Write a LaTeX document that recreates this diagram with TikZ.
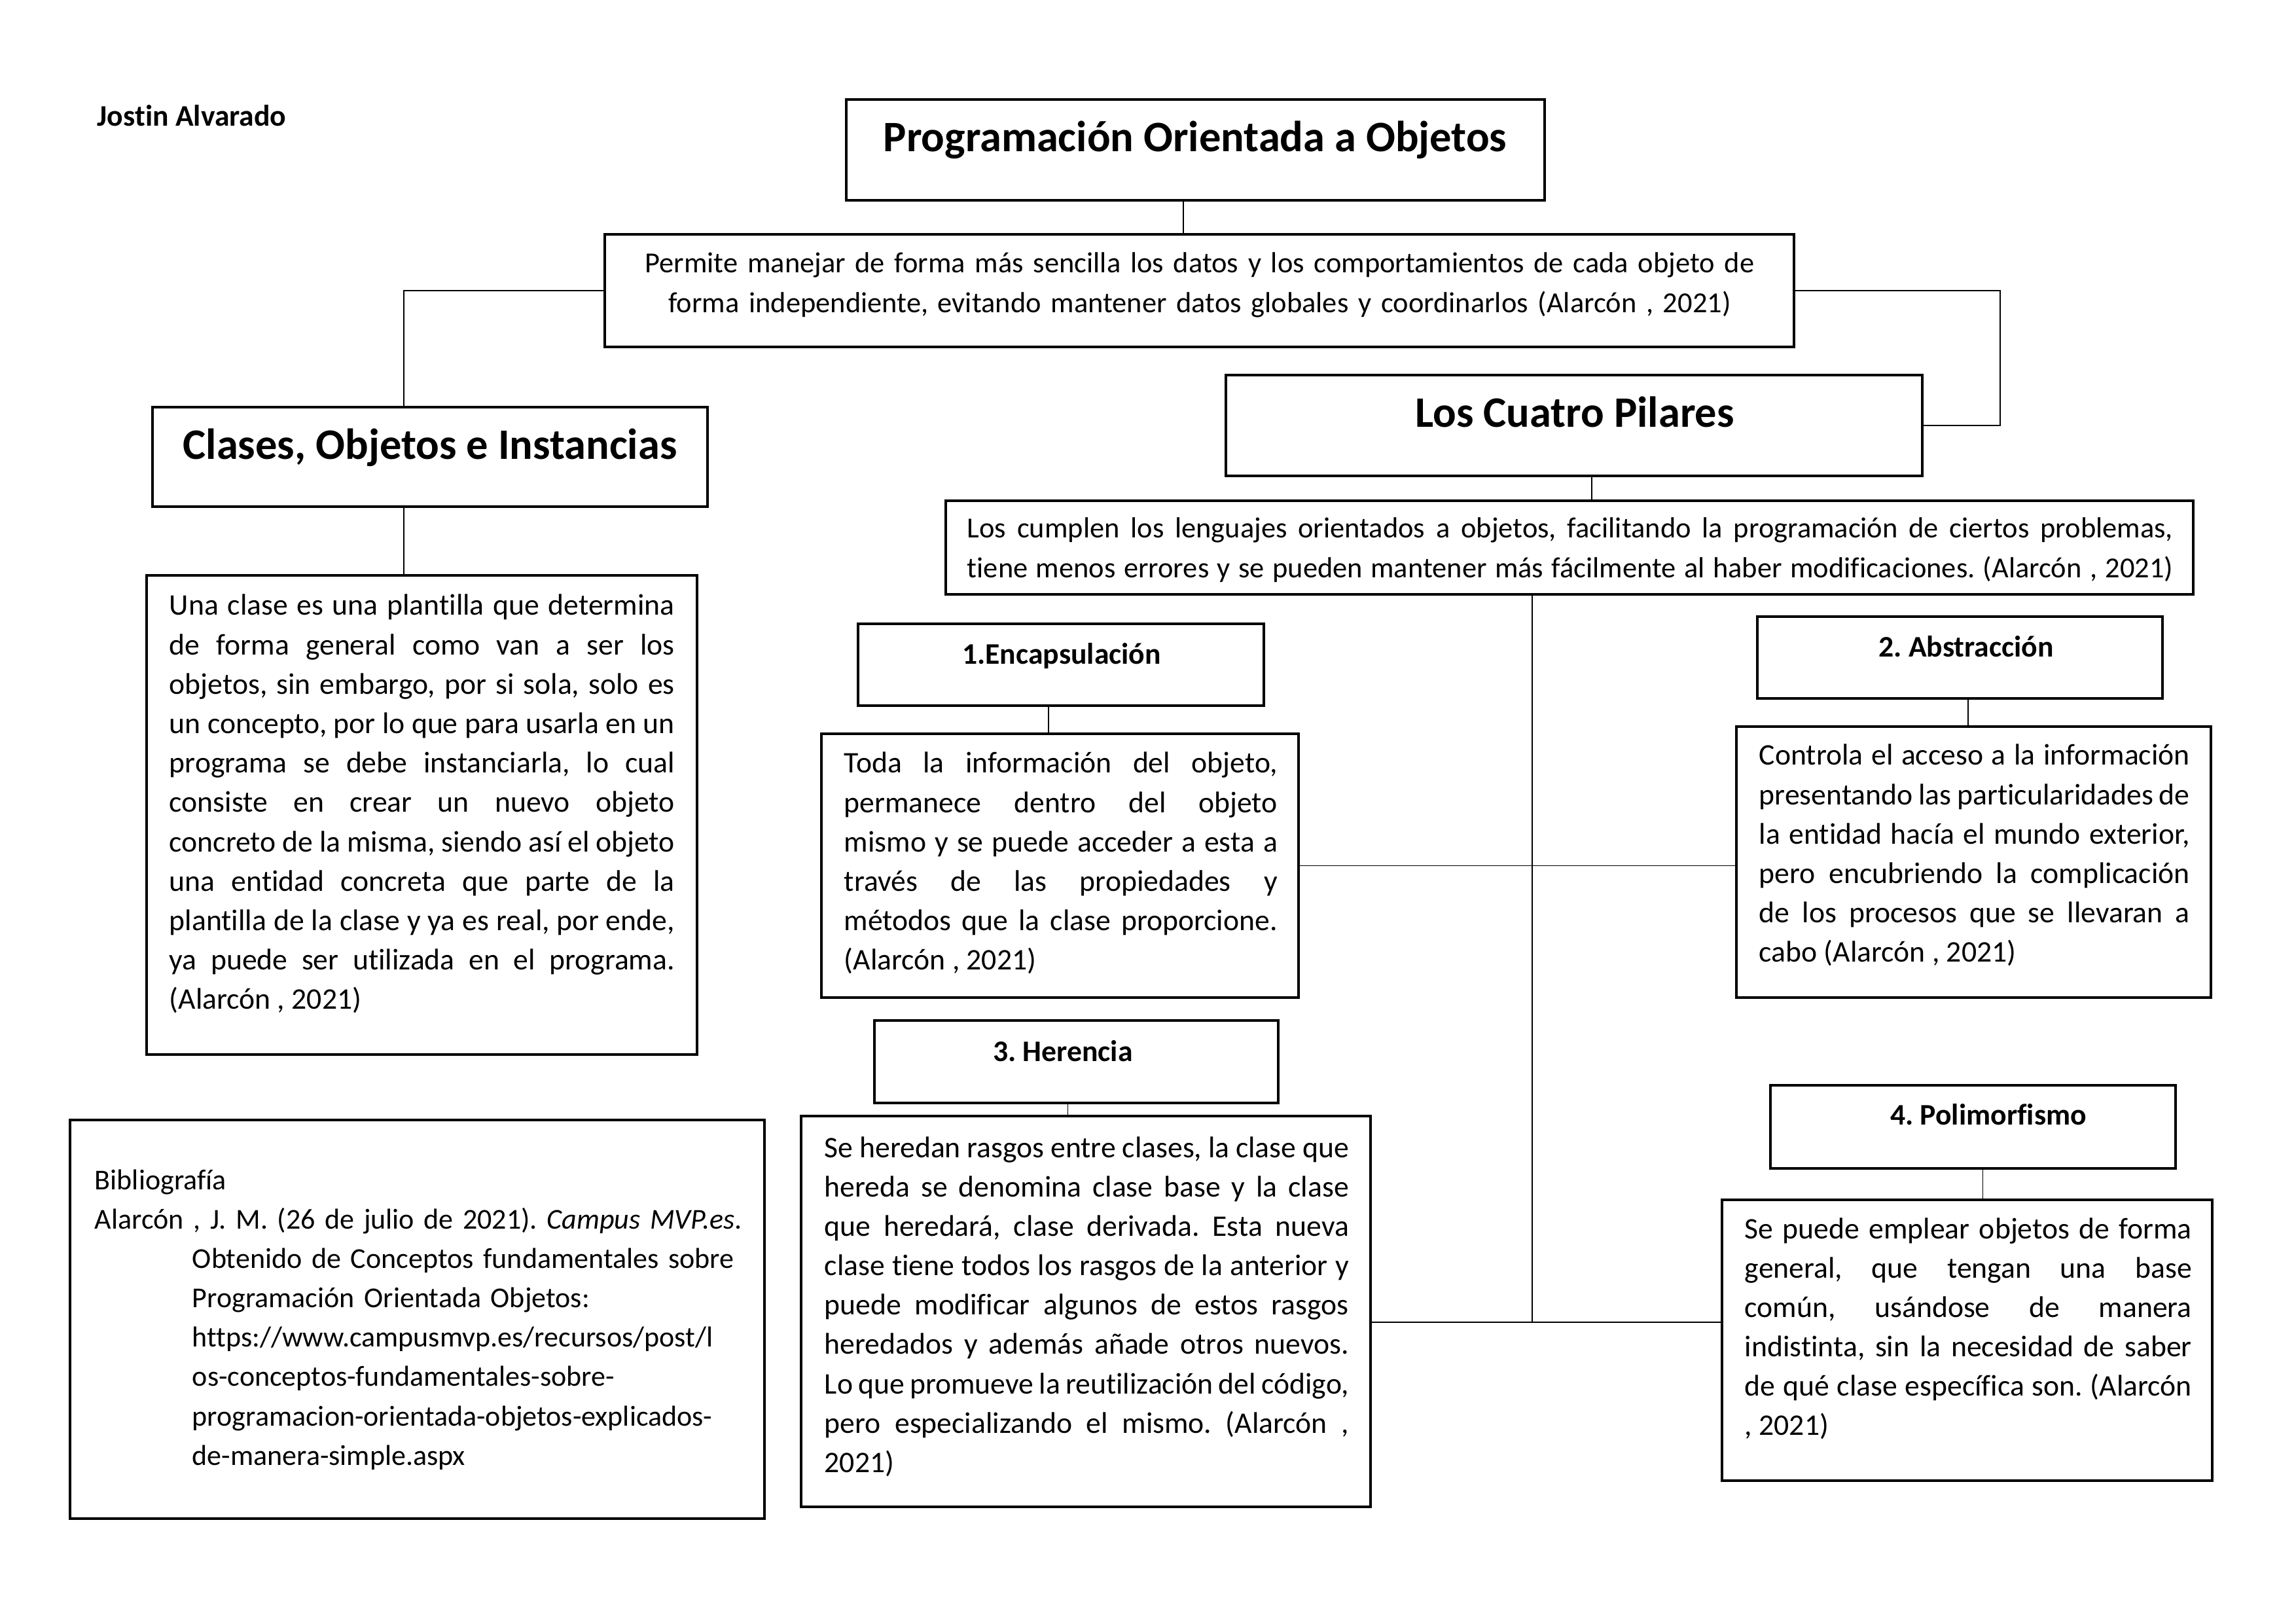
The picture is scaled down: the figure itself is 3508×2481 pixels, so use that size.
\documentclass[tikz,border=0pt]{standalone}
\usepackage{fontspec}
\setmainfont{Carlito}[Ligatures=CommonOff]
\usetikzlibrary{fit,calc}
\frenchspacing

\newcommand{\bodyfont}{\fontsize{11}{14.5}\selectfont}
\newcommand{\descfont}{\fontsize{10.7}{14.5}\selectfont}
\newcommand{\bibfont}{\fontsize{10.6}{14.5}\selectfont}
\newcommand{\headfont}{\fontsize{16}{19}\selectfont\bfseries}
\newcommand{\subfont}{\fontsize{11}{13}\selectfont\bfseries}
\newcommand{\hang}{\hspace*{12.62mm}}

\tikzset{
  box/.style={draw, line width=0.75pt, inner sep=0pt},
  link/.style={draw, line width=0.45pt},
  head/.style={font=\headfont, inner sep=0pt, anchor=base},
  subhead/.style={font=\subfont, inner sep=0pt, anchor=base},
  para/.style={font=\bodyfont, inner sep=0pt, anchor=base west, align=justify},
  lines/.style={font=\descfont, inner sep=0pt, anchor=base, align=center, text width=175mm},
  bib/.style={font=\bibfont, inner sep=0pt, anchor=base west, align=left, text width=88mm},
}

\begin{document}
\begin{tikzpicture}[x=0.084667mm, y=-0.084667mm]
  \useasboundingbox (0,0) rectangle (3508,2481);

  %% Author
  \node[subhead, anchor=base west] (autor) at (148,193) {Jostin Alvarado};

  %% Main title and description
  \node[box, fit={(1293,152) (2360,306)}] (poo) {};
  \node[head] (pooT) at (1826,232) {Programación Orientada a Objetos};
  \node[box, fit={(924,358) (2741,530)}] (permite) {};
  \node[lines] (permiteT) at (1833,417) {Permite manejar de forma más sencilla los datos y los comportamientos de cada objeto de\\
    forma independiente, evitando mantener datos globales y coordinarlos (Alarcón , 2021)};

  %% Left branch: classes
  \node[box, fit={(233,622) (1081,774)}] (clases) {};
  \node[head] (clasesT) at (657,702) {Clases, Objetos e Instancias};
  \node[box, fit={(224,879) (1065,1611)}] (clase) {};
  \node[para, text width=65.36mm] (claseT) at (258,940) {Una clase es una plantilla que determina\linebreak
    de forma general como van a ser los\linebreak
    objetos, sin embargo, por si sola, solo es\linebreak
    un concepto, por lo que para usarla en un\linebreak
    programa se debe instanciarla, lo cual\linebreak
    consiste en crear un nuevo objeto\linebreak
    concreto de la misma, siendo así el objeto\linebreak
    una entidad concreta que parte de la\linebreak
    plantilla de la clase y ya es real, por ende,\linebreak
    ya puede ser utilizada en el programa.\linebreak
    (Alarcón , 2021)};

  %% Bibliography
  \node[box, fit={(107,1711) (1168,2320)}] (biblio) {};
  \node[bib] (biblioT) at (144,1817) {Bibliografía\newline
    Alarcón , J. M. (26 de julio de 2021). \textit{Campus MVP.es}.\newline
    \hang Obtenido de Conceptos fundamentales sobre\newline
    \hang Programación Orientada Objetos:\newline
    \hang https://www.campusmvp.es/recursos/post/l\newline
    \hang os-conceptos-fundamentales-sobre-\newline
    \hang programacion-orientada-objetos-explicados-\newline
    \hang de-manera-simple.aspx};

  %% Four pillars
  \node[box, fit={(1873,573) (2937,727)}] (pilares) {};
  \node[head] (pilaresT) at (2406,653) {Los Cuatro Pilares};
  \node[box, fit={(1445,765) (3351,908)}] (cumplen) {};
  \node[para, font=\descfont, text width=156mm] (cumplenT) at (1477,822) {Los cumplen los lenguajes orientados a objetos, facilitando la programación de ciertos problemas,\linebreak
    tiene menos errores y se pueden mantener más fácilmente al haber modificaciones. (Alarcón , 2021)\linebreak\null};

  %% 1
  \node[box, fit={(1311,953) (1931,1078)}] (encaps) {};
  \node[subhead] (encapsT) at (1622,1015) {1.Encapsulación};
  \node[box, fit={(1255,1121) (1984,1524)}] (toda) {};
  \node[para, text width=56.05mm] (todaT) at (1289,1181) {Toda la información del objeto,\linebreak
    permanece dentro del objeto\linebreak
    mismo y se puede acceder a esta a\linebreak
    través de las propiedades y\linebreak
    métodos que la clase proporcione.\linebreak
    (Alarcón , 2021)};

  %% 2
  \node[box, fit={(2685,942) (3304,1067)}] (abstr) {};
  \node[subhead] (abstrT) at (3004,1004) {2. Abstracción};
  \node[box, fit={(2653,1110) (3378,1524)}] (controla) {};
  \node[para, text width=55.71mm] (controlaT) at (2687,1169) {Controla el acceso a la información\linebreak
    presentando las particularidades de\linebreak
    la entidad hacía el mundo exterior,\linebreak
    pero encubriendo la complicación\linebreak
    de los procesos que se llevaran a\linebreak
    cabo (Alarcón , 2021)};

  %% 3
  \node[box, fit={(1336,1559) (1953,1685)}] (herencia) {};
  \node[subhead] (herenciaT) at (1624,1621) {3. Herencia};
  \node[box, fit={(1224,1705) (2094,2302)}] (heredan) {};
  \node[para, text width=67.82mm] (heredanT) at (1259,1768) {Se heredan rasgos entre clases, la clase que\linebreak
    hereda se denomina clase base y la clase\linebreak
    que heredará, clase derivada. Esta nueva\linebreak
    clase tiene todos los rasgos de la anterior y\linebreak
    puede modificar algunos de estos rasgos\linebreak
    heredados y además añade otros nuevos.\linebreak
    Lo que promueve la reutilización del código,\linebreak
    pero especializando el mismo. (Alarcón ,\linebreak
    2021)};

  %% 4
  \node[box, fit={(2705,1658) (3324,1785)}] (polim) {};
  \node[subhead] (polimT) at (3038,1718) {4. Polimorfismo};
  \node[box, fit={(2631,1833) (3380,2262)}] (puede) {};
  \node[para, text width=57.83mm] (puedeT) at (2665,1892) {Se puede emplear objetos de forma\linebreak
    general, que tengan una base\linebreak
    común, usándose de manera\linebreak
    indistinta, sin la necesidad de saber\linebreak
    de qué clase específica son. (Alarcón\linebreak
    , 2021)};

  %% Connectors
  \draw[link] ([xshift=-1.57mm]poo.south) -- ([xshift=-1.57mm]poo.south |- permite.north);
  \draw[link] (permite.west) -| ([xshift=-3.39mm]clases.north);
  \draw[link] ([xshift=-3.39mm]clases.south) -- ([xshift=-3.39mm]clases.south |- clase.north);
  \draw[link] (permite.east) -- ++(313,0) |- (pilares.east);
  \draw[link] ([xshift=2.29mm]pilares.south) -- ([xshift=2.29mm]pilares.south |- cumplen.north);

  \coordinate (rowline) at (0,2020);
  \draw[link] ([xshift=-4.83mm]cumplen.south) -- ([xshift=-4.83mm]cumplen.south |- rowline);
  \draw[link] (toda.east) -- (toda.east -| controla.west);
  \draw[link] (heredan.east |- rowline) -- (puede.west |- rowline);

  \foreach \h/\d/\s in {encaps/toda/-1.61mm, abstr/controla/1.02mm, herencia/heredan/-1.1mm, polim/puede/1.27mm}
  {
    \draw[link] ([xshift=\s]\h.south) -- ([xshift=\s]\h.south |- \d.north);
  }
\end{tikzpicture}
\end{document}
